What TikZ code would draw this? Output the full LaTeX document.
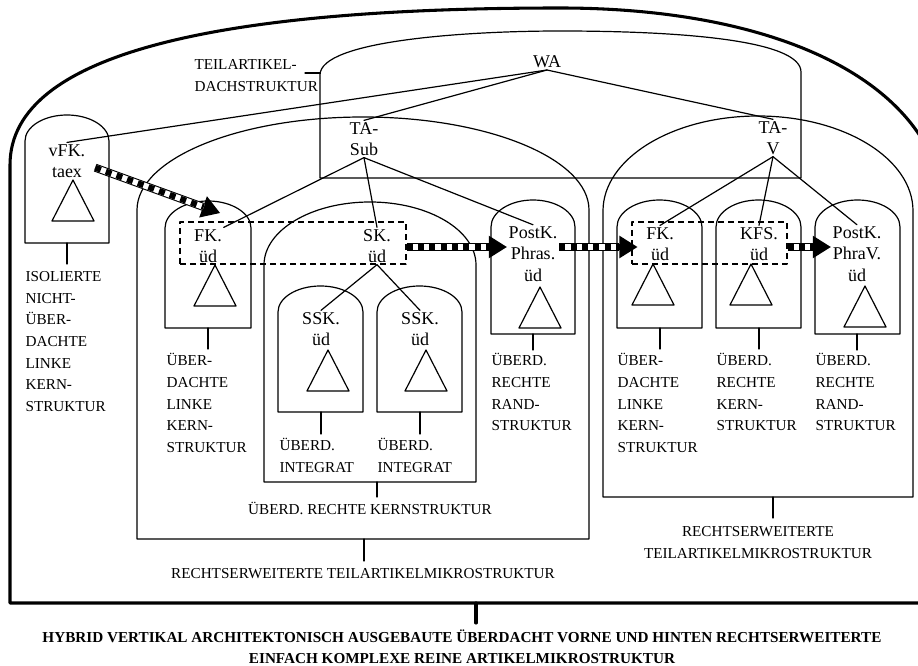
\documentclass[tikz,border=0pt]{standalone}
\usepackage{fontspec}
\setmainfont{Liberation Serif}
\usetikzlibrary{arrows.meta}
\tikzset{
	knot/.style={align=center,inner sep=1pt,font=\fontsize{13.5}{16}\selectfont},
	lbl/.style={anchor=north west,align=left,inner sep=0pt,font=\fontsize{11.4}{16.2}\selectfont},
	clbl/.style={lbl,anchor=north,align=center},
	dashbox/.style={draw,dash pattern=on 4.5pt off 3pt,line cap=butt,inner sep=0pt},
	stripe/.style={line cap=butt,line width=6pt,-{Triangle[length=13.5pt,width=17pt,line width=0pt]},
		postaction={draw=white,line width=4.4pt,-,shorten >=13pt},
		postaction={draw=black,line width=4.4pt,-,shorten >=13pt,dash pattern=on 4.5pt off 4pt}},
}
% arched box: left, right, start of arch, top, bottom
\newcommand{\archbox}[5]{%
	\pgfmathsetmacro{\archc}{(#1+#2)/2}%
	\pgfmathsetmacro{\archkx}{0.552*(#2-#1)/2}%
	\pgfmathsetmacro{\archky}{0.552*(#3-#4)}%
	\draw (#1,#5) -- (#1,#3) .. controls (#1,#3-\archky) and (\archc-\archkx,#4) .. (\archc,#4)
		.. controls (\archc+\archkx,#4) and (#2,#3-\archky) .. (#2,#3) -- (#2,#5) -- cycle;}
\newcommand{\leaftri}[2]{\draw (#1,#2) -- ++(-21,41) -- ++(42,0) -- cycle;}
\begin{document}
\begin{tikzpicture}[line cap=round,line join=round,line width=0.9pt,x=0.75pt,y=-0.75pt]
	\useasboundingbox (0,0) rectangle (918,666);
	\clip(0,0) rectangle (918,666);
	% outer frame
	\draw [line width=2.3pt] (10,603) -- (10,165) .. controls (10,50) and (230,8) .. (560,8)
		.. controls (760,8) and (910,70) .. (940,180) -- (940,603) -- cycle;
	% teilartikel-dachstruktur
	\draw (320,178) -- (320,75) .. controls (320,40) and (470,31) .. (560,31)
		.. controls (680,31) and (801,40) .. (801,72) -- (801,178) -- cycle;
	\coordinate (dachl) at (320,73);
	\draw (dachl) -- ++(-15,0);
	% boxes
	\archbox{25}{109}{141}{115}{243}
	\archbox{137}{589}{210}{117}{539}
	\archbox{165}{251}{228}{201}{328}
	\archbox{264}{476}{265}{202}{482}
	\archbox{278}{363}{312}{286}{412}
	\archbox{377}{462}{312}{286}{412}
	\archbox{491}{575}{227}{200}{334}
	\archbox{603}{913}{211}{116}{497}
	\archbox{617}{702}{227}{200}{328}
	\archbox{716}{801}{227}{200}{328}
	\archbox{815}{900}{227}{200}{334}
	% nodes
	\node[knot] (wa) at (547,62) {WA};
	\node[knot] (tasub) at (364,139) {TA-\\Sub};
	\node[knot] (tav) at (773,138) {TA-\\V};
	\node[knot] (vfk) at (67,161) {vFK.\\taex};
	\node[knot] (fkl) at (208,246) {FK.\\üd};
	\node[knot] (sk) at (377,246) {SK.\\üd};
	\node[knot] (ssk1) at (321,329) {SSK.\\üd};
	\node[knot] (ssk2) at (420,329) {SSK.\\üd};
	\node[knot] (postkp) at (533,254) {PostK.\\Phras.\\üd};
	\node[knot] (fkr) at (660,244) {FK.\\üd};
	\node[knot] (kfs) at (759,244) {KFS.\\üd};
	\node[knot] (postkv) at (857,254) {PostK.\\PhraV.\\üd};
	\node[dashbox,minimum width=169.5pt,minimum height=31.5pt] (dashl) at (293,243) {};
	\node[dashbox,minimum width=116.25pt,minimum height=31.5pt] (dashr) at (709.5,243) {};
	\leaftri{73}{180}
	\leaftri{215}{265}
	\leaftri{328}{350}
	\leaftri{426}{350}
	\leaftri{540}{287}
	\leaftri{653}{264}
	\leaftri{751}{264}
	\leaftri{865}{286}
	% tree
	\draw (wa.south) -- (vfk.north);
	\draw (wa.south) -- (tasub.north);
	\draw (wa.south) -- (tav.north);
	\draw (tasub.south) -- (fkl.north east);
	\draw (tasub.south) -- (sk.north);
	\draw (tasub.south) -- (postkp.north);
	\draw (sk.south) -- (ssk1.north);
	\draw (sk.south) -- (ssk2.north);
	\draw (tav.south) -- (fkr.north);
	\draw (tav.south) -- (kfs.north);
	\draw (tav.south) -- (postkv.north);
	% arrows
	\coordinate (fktip) at (220,213);
	\draw[stripe] ([xshift=6pt,yshift=-5pt]vfk.east) -- (fktip);
	\draw[stripe] ([yshift=-3pt]dashl.east) -- ([yshift=-3pt]dashl.east -| postkp.west);
	\draw[stripe] ([yshift=-3pt]dashl.east -| postkp.east) -- ([xshift=4.5pt,yshift=-3pt]dashr.west);
	\draw[stripe] ([yshift=-3pt]dashr.east) -- ([yshift=-3pt]dashr.east -| postkv.west);
	% labels
	\node[lbl] (ldach) at (194,59) {TEILARTIKEL-\\DACHSTRUKTUR};
	\node[lbl] (lvfk) at (25,271) {ISOLIERTE\\NICHT-\\ÜBER-\\DACHTE\\LINKE\\KERN-\\STRUKTUR};
	\node[lbl] (lfkl) at (166,353) {ÜBER-\\DACHTE\\LINKE\\KERN-\\STRUKTUR};
	\node[lbl] (lssk1) at (279,438) {ÜBERD.\\INTEGRAT};
	\node[lbl] (lssk2) at (377,438) {ÜBERD.\\INTEGRAT};
	\node[lbl] (lpostkp) at (491,353) {ÜBERD.\\RECHTE\\RAND-\\STRUKTUR};
	\node[lbl] (lfkr) at (617,353) {ÜBER-\\DACHTE\\LINKE\\KERN-\\STRUKTUR};
	\node[lbl] (lkfs) at (716,353) {ÜBERD.\\RECHTE\\KERN-\\STRUKTUR};
	\node[lbl] (lpostkv) at (815,353) {ÜBERD.\\RECHTE\\RAND-\\STRUKTUR};
	\node[clbl] (lsk) at (370,502) {ÜBERD. RECHTE KERNSTRUKTUR};
	\node[clbl] (lleft) at (363,568) {RECHTSERWEITERTE TEILARTIKELMIKROSTRUKTUR};
	\node[clbl] (lright) at (758,526) {RECHTSERWEITERTE\\TEILARTIKELMIKROSTRUKTUR};
	\node[clbl,font=\fontsize{11.4}{15.8}\selectfont\bfseries] (lall) at (462,629) {HYBRID VERTIKAL ARCHITEKTONISCH AUSGEBAUTE ÜBERDACHT VORNE UND HINTEN RECHTSERWEITERTE\\EINFACH KOMPLEXE REINE ARTIKELMIKROSTRUKTUR};
	% leaders
	\draw (vfk |- 0,243) -- ++(0,21);
	\draw (fkl |- 0,328) -- ++(0,21);
	\draw (ssk1 |- 0,412) -- ++(0,22);
	\draw (ssk2 |- 0,412) -- ++(0,22);
	\draw (postkp |- 0,334) -- ++(0,16);
	\draw (fkr |- 0,328) -- ++(0,21);
	\draw (kfs |- 0,328) -- ++(0,21);
	\draw (postkv |- 0,334) -- ++(0,16);
	\draw (sk |- 0,482) -- ++(0,15);
	\draw (tasub |- 0,539) -- ++(0,22);
	\draw (tav |- 0,497) -- ++(0,21);
	\draw [line width=2.3pt] (476,603) -- (476,623);
\end{tikzpicture}
\end{document}
